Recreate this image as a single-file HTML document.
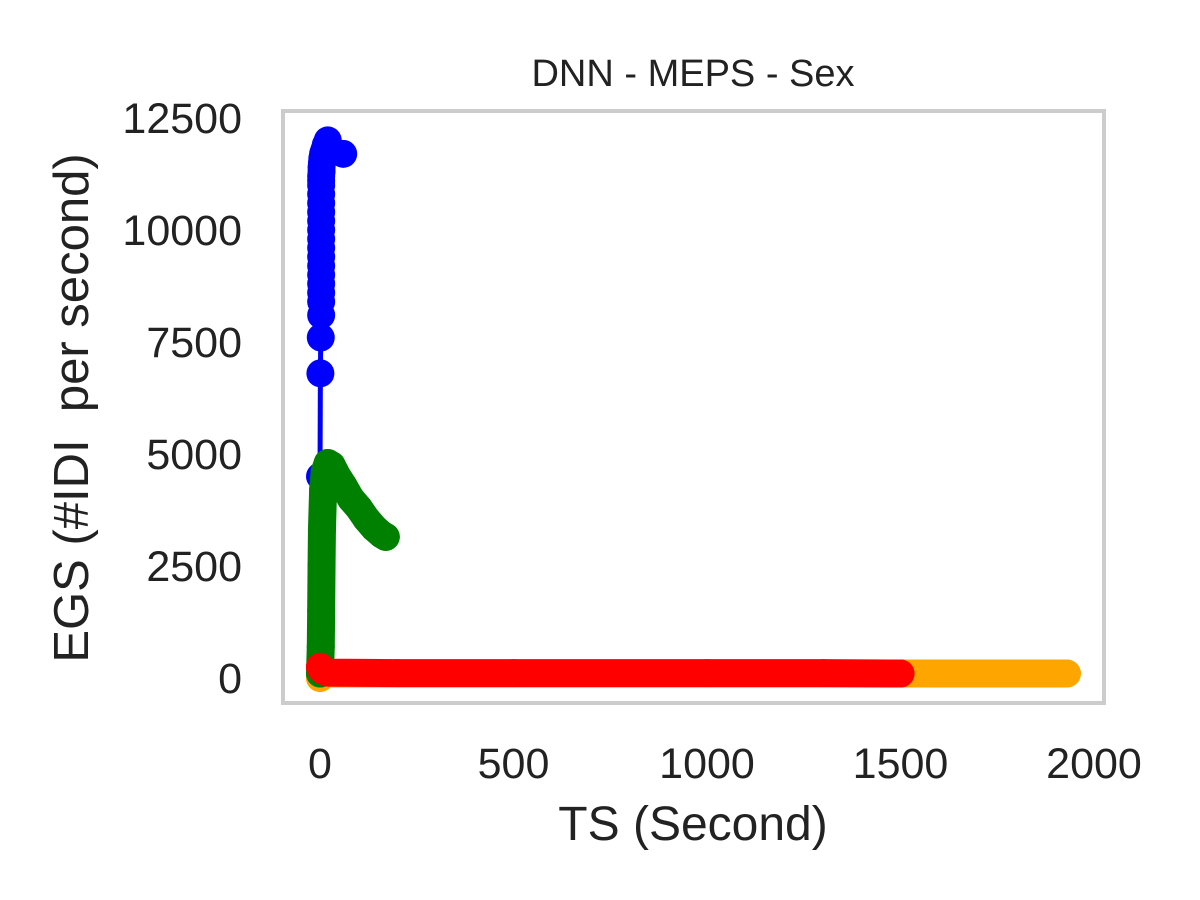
<!DOCTYPE html>
<html><head><meta charset="utf-8"><style>
html,body{margin:0;padding:0;background:#fff;}
svg{display:block;font-family:"Liberation Sans",Arial,sans-serif;}
</style></head><body>
<svg id="chart" width="1200" height="900">
<rect x="0" y="0" width="1200" height="900" fill="#fff"/>
<g id="plot"></g>
<rect x="283" y="111" width="821" height="592" fill="none" stroke="#cccccc" stroke-width="4"/>
<g id="xticks"></g>
<g id="yticks"></g>
<text x="693" y="86" font-size="38" fill="#222" text-anchor="middle">DNN - MEPS - Sex</text>
<text x="693" y="840" font-size="48" fill="#222" text-anchor="middle">TS (Second)</text>
<text transform="translate(88,408) rotate(-90)" font-size="49" fill="#222" text-anchor="middle" xml:space="preserve">EGS (#IDI  per second)</text>
</svg>
<script>
const xTicks=[0,500,1000,1500,2000];
const yTicks=[0,2500,5000,7500,10000,12500];
const blueX=[0,1,2,3,3,3,3,3,3,3,3,3,3,3,3,3,3,3,3,3,4,4,5,6,8,10,12,15,20,30,60];
const blueY=[4500,6800,7600,8100,8400,8600,8800,9000,9200,9400,9600,9800,10000,10200,10400,10600,10800,11000,11100,11200,11300,11400,11500,11600,11700,11750,11800,11900,12000,11800,11700];
const greenX=[0,2,3,4,5,8,12,20,30,45,60,80,100,120,140,160,170];
const greenY=[100,700,1500,2500,3300,4200,4600,4800,4750,4500,4300,4000,3800,3550,3350,3200,3150];
const orangeX=[0,5,20,200,500,1000,1500,1930];
const orangeY=[0,50,100,100,100,100,100,100];
const redX=[0,5,20,200,500,1000,1300,1500];
const redY=[250,180,120,110,110,110,110,100];
const xs=v=>320+v*(1094-320)/2000;
const ys=v=>678-v*(678-118)/12500;
const NS="http://www.w3.org/2000/svg";
const plot=document.getElementById('plot');
function series(X,Y,color,lw,r,name){
  const g=document.createElementNS(NS,'g');
  
  
  const pl=document.createElementNS(NS,'polyline');
  pl.setAttribute('points',X.map((x,i)=>xs(x)+','+ys(Y[i])).join(' '));
  pl.setAttribute('fill','none');pl.setAttribute('stroke',color);
  pl.setAttribute('stroke-width',lw);pl.setAttribute('stroke-linecap','round');pl.setAttribute('stroke-linejoin','round');
  
  
  g.appendChild(pl);
  X.forEach((x,i)=>{
    const c=document.createElementNS(NS,'circle');
    c.setAttribute('cx',xs(x));c.setAttribute('cy',ys(Y[i]));c.setAttribute('r',r);c.setAttribute('fill',color);
    
    
    g.appendChild(c);
  });
  plot.appendChild(g);
}
series(orangeX,orangeY,'#ffa500',28,14,'orange-series');
series(blueX,blueY,'#0000ff',5,14,'blue-series');
series(greenX,greenY,'#008000',28,14,'green-series');
series(redX,redY,'#ff0000',28,14,'red-series');
const xg=document.getElementById('xticks');
xTicks.forEach(t=>{
  const e=document.createElementNS(NS,'text');
  e.setAttribute('x',xs(t));e.setAttribute('y',778);e.setAttribute('font-size','43');e.setAttribute('fill','#222');e.setAttribute('text-anchor','middle');
  e.textContent=t;
  
  
  xg.appendChild(e);
});
const yg=document.getElementById('yticks');
yTicks.forEach(t=>{
  const e=document.createElementNS(NS,'text');
  e.setAttribute('x',242);e.setAttribute('y',ys(t)+15);e.setAttribute('font-size','43');e.setAttribute('fill','#222');e.setAttribute('text-anchor','end');
  e.textContent=t;
  
  
  yg.appendChild(e);
});
</script>
</body></html>
